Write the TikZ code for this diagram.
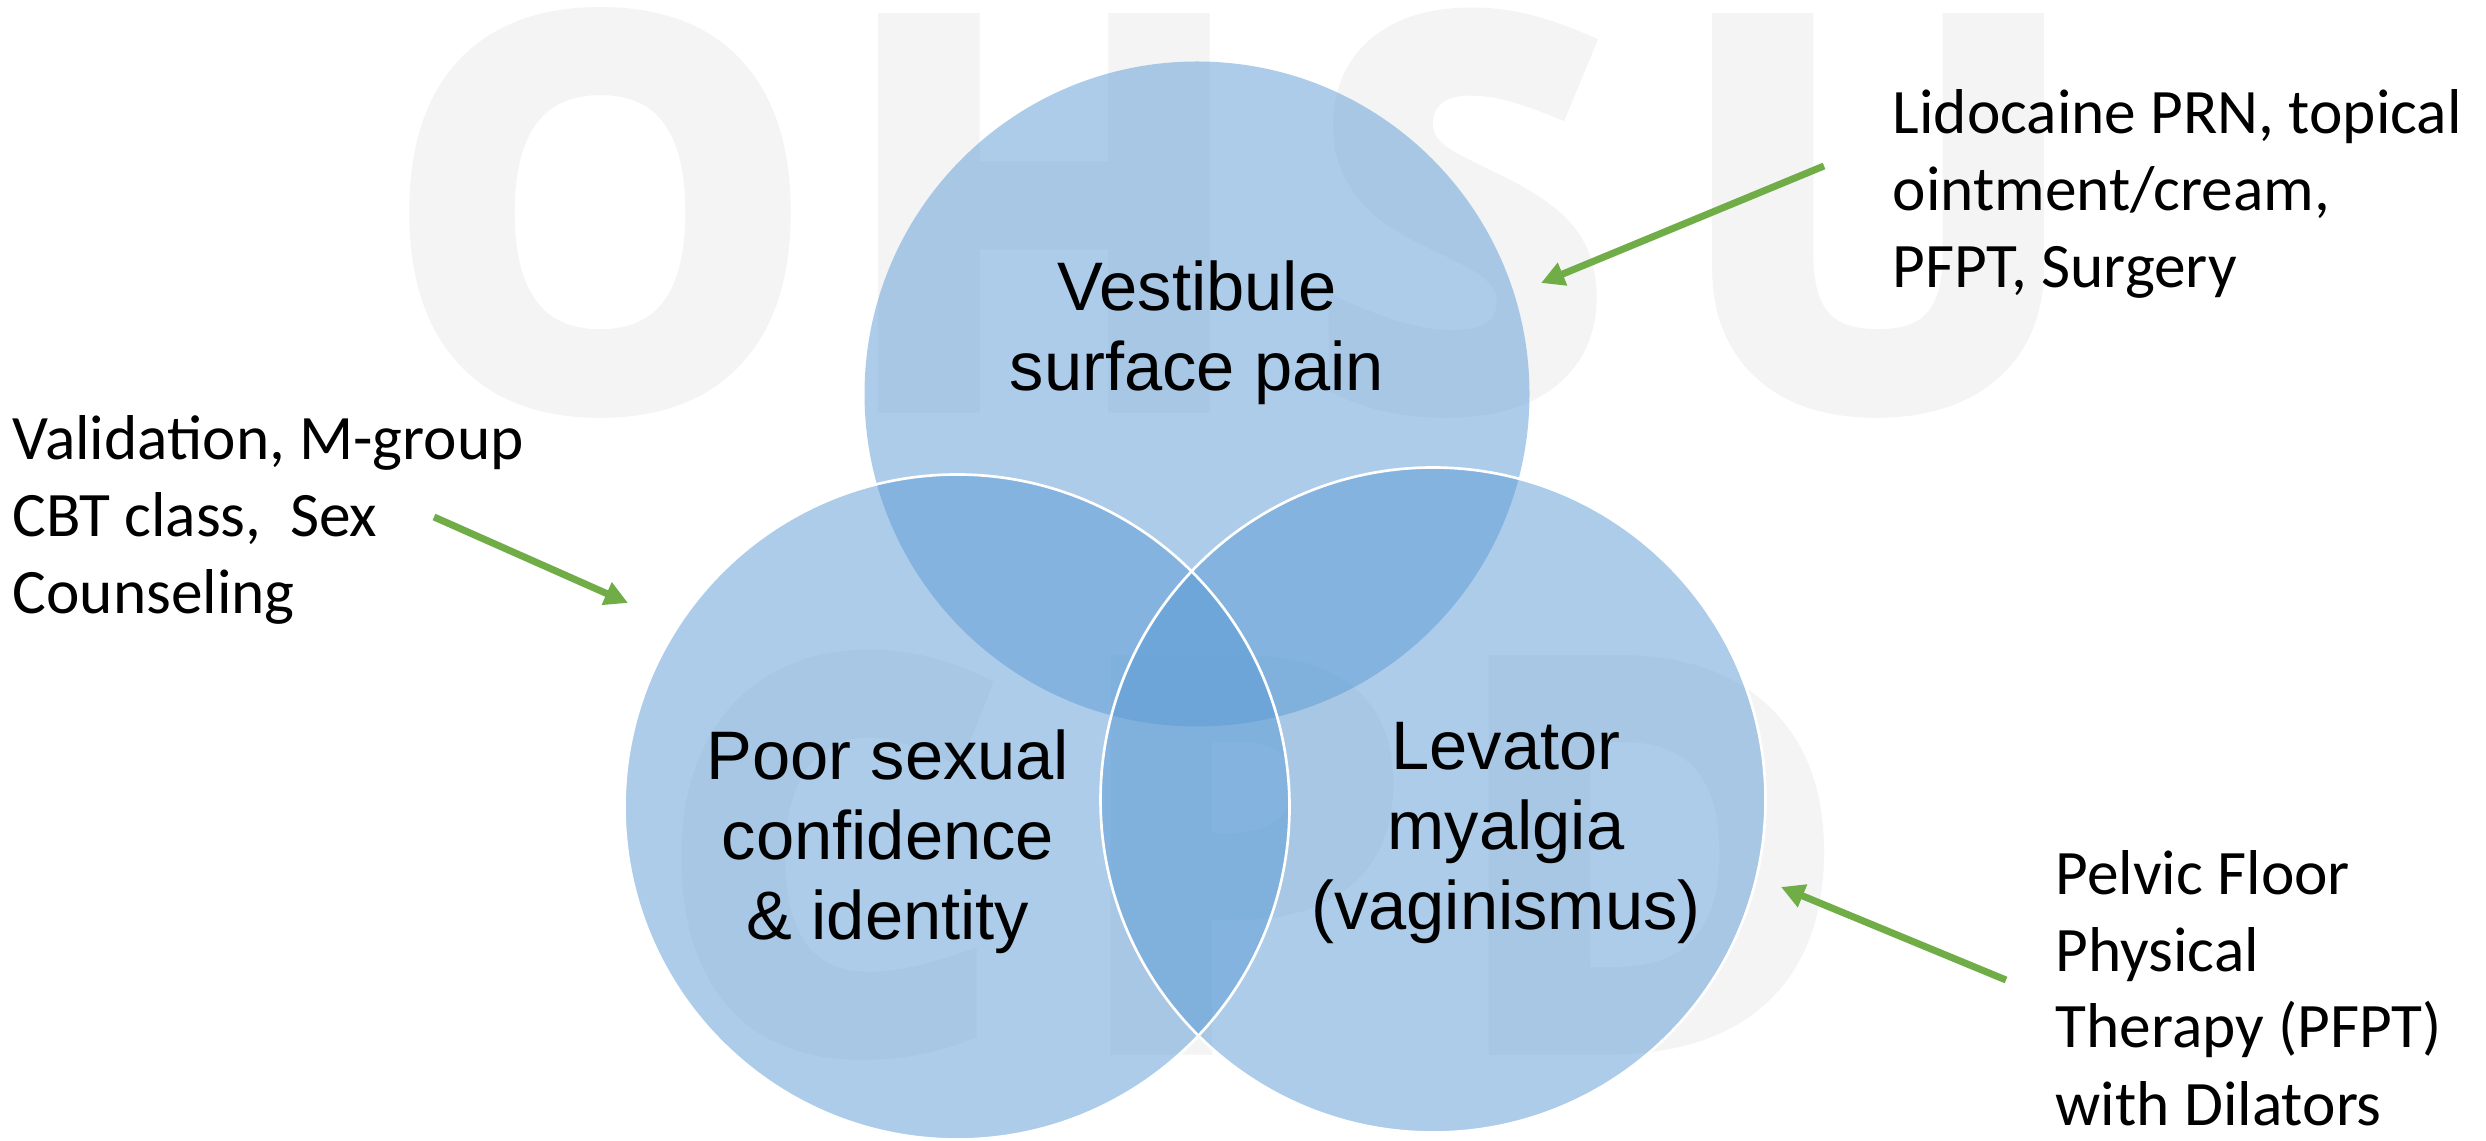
\documentclass[tikz,border=0pt]{standalone}
\usepackage{fontspec}
\setmainfont{Liberation Sans}
\newfontfamily\calib{Carlito}
\newfontfamily\wmfont{Open Sans}[BoldFeatures={FakeBold=4}]
\usetikzlibrary{arrows.meta}
\definecolor{vennblue}{HTML}{5B9BD5}
\definecolor{arrowgreen}{HTML}{70AD47}
\definecolor{wmgray}{HTML}{F4F4F4}
\begin{document}
\begin{tikzpicture}[x=0.3pt,y=-0.3pt,
  wm/.style={font=\wmfont\bfseries\fontsize{159}{159}\selectfont, text=wmgray, anchor=base, inner sep=0pt},
  vennc/.style={circle, fill=vennblue, fill opacity=0.5, minimum size=199.5pt, inner sep=0pt},
  vennrim/.style={circle, draw=white, line width=0.8pt, minimum size=199.5pt, inner sep=0pt},
  clabel/.style={font=\fontsize{20.6}{24}\selectfont, align=center, text=black, inner sep=0pt, anchor=base},
  side/.style={font=\calib\fontsize{19}{23.1}\selectfont, align=left, text=black, inner sep=0pt, anchor=base west},
  arr/.style={draw=arrowgreen, line width=2.1pt, -{Triangle[length=7pt,width=7pt]}}]
\path[fill=white, use as bounding box] (0,0) rectangle (2486,1141);
% watermark
\node[wm] (wO) at (600,402) {O};
\node[wm] (wH) at (1044,402) {H};
\node[wm] (wS) at (1461,402) {S};
\node[wm] (wU) at (1878,402) {U};
\node[wm] (wC) at (830,1044) {C};
\node[wm] (wP) at (1240,1044) {P};
\node[wm] (wD) at (1648,1044) {D};
% circles
\node[vennc] (top) at (1197,394) {};
\node[vennc] (right) at (1433,800) {};
\node[vennc] (left) at (957,807) {};
\node[vennrim] (rightrim) at (1433,800) {};
\node[vennrim] (leftrim) at (957,807) {};
% circle labels (anchor = baseline of last line)
\node[clabel] (ltop) at (1197,391) {Vestibule\\surface pain};
\node[clabel] (lleft) at (888,940) {Poor sexual\\confidence\\\& identity};
\node[clabel] (lright) at (1506,930) {Levator\\myalgia\\(vaginismus)};
% side labels
\node[side] (stop) at (1892,288) {Lidocaine PRN, topical\\ointment/cream,\\PFPT, Surgery};
\node[side] (sleft) at (12,614) {Validation, M-group\\CBT class,\ \ Sex\\Counseling};
\node[side] (sright) at (2055,1125) {Pelvic Floor\\Physical\\Therapy (PFPT)\\with Dilators};
% arrows
\coordinate (a1s) at (1824,166); \coordinate (a1e) at (1541,283);
\coordinate (a2s) at (434,517);  \coordinate (a2e) at (628,603);
\coordinate (a3s) at (2006,980); \coordinate (a3e) at (1781,887);
\draw[arr] (a1s) -- (a1e);
\draw[arr] (a2s) -- (a2e);
\draw[arr] (a3s) -- (a3e);
\end{tikzpicture}
\end{document}
